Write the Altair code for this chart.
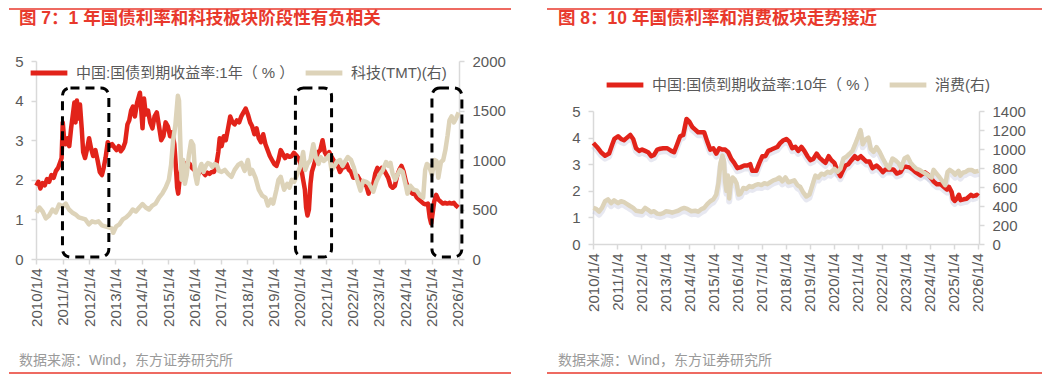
import altair as alt
import pandas as pd

FONT = "Liberation Sans, Noto Sans CJK SC, sans-serif"
RED = "#e2231a"
TAN = "#ddd3b9"
SHADOW = "#b9bed6"
RULE_RED = "#e8392c"
AXIS_GRAY = "#d9d9d9"
TEXT_GRAY = "#595959"
SRC_GRAY = "#9a9a9a"

TITLE_L = "图 7：1 年国债利率和科技板块阶段性有负相关"
TITLE_R = "图 8：10 年国债利率和消费板块走势接近"
SOURCE = "数据来源：Wind，东方证券研究所"
SER_L = ["中国:国债到期收益率:1年（ % ）", "科技(TMT)(右)"]
SER_R = ["中国:国债到期收益率:10年（ % ）", "消费(右)"]
TICK_YEARS = list(range(2010, 2027))

# ---------- left panel: 1Y yield ----------
L_RED_DATES = [
    "2010-01-04", "2010-02-01", "2010-03-01", "2010-04-01", "2010-05-01", "2010-06-01", "2010-07-01", "2010-08-01",
    "2010-09-01", "2010-10-01", "2010-11-01", "2010-12-01", "2010-12-20", "2011-01-05", "2011-01-25", "2011-02-15",
    "2011-03-10", "2011-04-05", "2011-05-01", "2011-05-25", "2011-06-15", "2011-07-01", "2011-07-20", "2011-08-10",
    "2011-09-01", "2011-09-25", "2011-10-15", "2011-11-10", "2011-12-05", "2012-01-05", "2012-02-01", "2012-03-01",
    "2012-04-01", "2012-05-01", "2012-06-01", "2012-07-01", "2012-07-25", "2012-08-20", "2012-09-20", "2012-10-20",
    "2012-11-20", "2012-12-20", "2013-01-20", "2013-02-20", "2013-03-20", "2013-04-20", "2013-05-20", "2013-06-20",
    "2013-07-15", "2013-08-10", "2013-09-05", "2013-10-01", "2013-11-01", "2013-12-10", "2013-12-25", "2014-01-15",
    "2014-02-05", "2014-03-01", "2014-04-01", "2014-05-01", "2014-06-01", "2014-07-01", "2014-08-01", "2014-09-01",
    "2014-10-01", "2014-11-01", "2014-12-01", "2015-01-01", "2015-02-01", "2015-03-01", "2015-04-01", "2015-04-20",
    "2015-05-10", "2015-05-25", "2015-06-15", "2015-07-10", "2015-08-01", "2015-09-01", "2015-10-01", "2015-11-01",
    "2015-12-01", "2016-01-01", "2016-02-01", "2016-03-01", "2016-04-01", "2016-05-01", "2016-06-01", "2016-07-01",
    "2016-08-01", "2016-09-01", "2016-10-01", "2016-11-01", "2016-12-01", "2016-12-20", "2017-01-15", "2017-02-15",
    "2017-03-15", "2017-04-15", "2017-05-15", "2017-06-15", "2017-07-15", "2017-08-15", "2017-09-15", "2017-10-15",
    "2017-11-15", "2017-12-15", "2018-01-15", "2018-02-15", "2018-03-15", "2018-04-15", "2018-05-15", "2018-06-15",
    "2018-07-15", "2018-08-15", "2018-09-15", "2018-10-15", "2018-11-15", "2018-12-15", "2019-01-15", "2019-02-15",
    "2019-03-15", "2019-04-15", "2019-05-15", "2019-06-15", "2019-07-15", "2019-08-15", "2019-09-15", "2019-10-15",
    "2019-11-15", "2019-12-15", "2020-01-15", "2020-02-15", "2020-03-15", "2020-04-01", "2020-04-20", "2020-05-10",
    "2020-06-01", "2020-06-20", "2020-07-15", "2020-08-15", "2020-09-15", "2020-10-15", "2020-11-15", "2020-12-15",
    "2021-01-15", "2021-02-15", "2021-03-15", "2021-04-15", "2021-05-15", "2021-06-15", "2021-07-15", "2021-08-15",
    "2021-09-15", "2021-10-15", "2021-11-15", "2021-12-15", "2022-01-15", "2022-02-15", "2022-03-15", "2022-04-15",
    "2022-05-15", "2022-06-15", "2022-07-15", "2022-08-15", "2022-09-15", "2022-10-15", "2022-11-15", "2022-12-15",
    "2023-01-15", "2023-02-15", "2023-03-15", "2023-04-15", "2023-05-15", "2023-06-15", "2023-07-15", "2023-08-15",
    "2023-09-15", "2023-10-15", "2023-11-15", "2023-12-15", "2024-01-15", "2024-02-15", "2024-03-15", "2024-04-15",
    "2024-05-15", "2024-06-15", "2024-07-15", "2024-08-15", "2024-09-15", "2024-10-15", "2024-11-15", "2024-12-10",
    "2024-12-30", "2025-01-15", "2025-02-10", "2025-03-10", "2025-04-10", "2025-05-10", "2025-06-10", "2025-07-10",
    "2025-08-10", "2025-09-10", "2025-10-10", "2025-11-10", "2025-12-10", "2026-01-10",
]
L_RED = [
    1.85, 1.95, 1.78, 1.92, 1.86, 2.02, 1.95, 2.12,
    2.05, 2.22, 2.30, 2.45, 2.55, 3.45, 3.00, 2.90,
    3.05, 2.85, 3.30, 3.65, 3.95, 3.45, 4.00, 3.55,
    3.90, 3.30, 2.70, 2.55, 2.75, 3.05, 2.80, 2.60,
    2.75, 2.50, 2.20, 2.12, 2.30, 2.55, 2.95, 2.85,
    2.90, 2.82, 2.75, 2.85, 2.72, 2.80, 2.95, 3.40,
    3.50, 3.75, 3.85, 3.60, 3.95, 4.20, 3.85, 3.30,
    4.05, 3.65, 3.75, 3.45, 3.30, 3.60, 3.70, 3.35,
    3.00, 3.10, 3.45, 3.35, 3.10, 3.20, 2.90, 2.40,
    1.80, 1.65, 2.05, 2.30, 2.45, 2.40, 2.35, 2.40,
    2.30, 2.25, 2.22, 2.15, 2.25, 2.20, 2.12, 2.18,
    2.15, 2.20, 2.20, 2.35, 2.70, 3.05, 2.85, 3.10,
    3.00, 3.30, 3.60, 3.45, 3.40, 3.50, 3.45, 3.60,
    3.70, 3.80, 3.65, 3.45, 3.35, 3.15, 3.30, 3.05,
    2.95, 3.15, 2.90, 2.75, 2.60, 2.50, 2.40, 2.35,
    2.50, 2.75, 2.65, 2.55, 2.62, 2.58, 2.60, 2.68,
    2.62, 2.55, 2.40, 2.05, 1.75, 1.30, 1.10, 1.25,
    1.90, 2.20, 2.35, 2.55, 2.70, 2.75, 3.00, 2.70,
    2.60, 2.70, 2.60, 2.50, 2.40, 2.35, 2.20, 2.30,
    2.32, 2.40, 2.25, 2.20, 2.05, 2.05, 2.10, 2.00,
    1.95, 1.90, 1.85, 1.65, 1.80, 1.85, 2.15, 2.30,
    2.20, 2.30, 2.25, 2.15, 2.05, 1.85, 1.80, 1.85,
    2.10, 2.25, 2.35, 2.20, 1.95, 1.80, 1.70, 1.65,
    1.65, 1.55, 1.50, 1.45, 1.40, 1.38, 1.40, 1.05,
    0.90, 1.10, 1.45, 1.62, 1.50, 1.45, 1.40, 1.42,
    1.40, 1.42, 1.40, 1.42, 1.35, 1.30,
]

L_TAN_DATES = [
    "2010-01-04", "2010-02-15", "2010-04-01", "2010-05-15", "2010-07-01", "2010-08-15", "2010-10-01", "2010-11-15",
    "2011-01-01", "2011-02-15", "2011-04-01", "2011-05-15", "2011-07-01", "2011-08-15", "2011-10-01", "2011-11-15",
    "2012-01-01", "2012-02-15", "2012-04-01", "2012-05-15", "2012-07-01", "2012-08-15", "2012-10-01", "2012-11-15",
    "2012-12-05", "2013-01-15", "2013-03-01", "2013-04-15", "2013-06-01", "2013-07-15", "2013-09-01", "2013-10-15",
    "2013-12-01", "2014-01-15", "2014-03-01", "2014-04-15", "2014-06-01", "2014-07-15", "2014-09-01", "2014-10-15",
    "2014-12-01", "2015-01-15", "2015-02-15", "2015-03-15", "2015-04-15", "2015-05-20", "2015-06-05", "2015-06-20",
    "2015-07-10", "2015-08-01", "2015-08-25", "2015-09-20", "2015-10-20", "2015-11-20", "2015-12-20", "2016-01-15",
    "2016-02-10", "2016-03-10", "2016-04-10", "2016-05-10", "2016-06-10", "2016-07-10", "2016-08-10", "2016-09-10",
    "2016-10-10", "2016-11-10", "2016-12-10", "2017-01-15", "2017-03-01", "2017-04-15", "2017-06-01", "2017-07-15",
    "2017-09-01", "2017-10-15", "2017-12-01", "2018-01-15", "2018-02-15", "2018-03-15", "2018-05-01", "2018-06-15",
    "2018-08-01", "2018-09-15", "2018-10-20", "2018-12-01", "2019-01-01", "2019-02-15", "2019-03-15", "2019-04-15",
    "2019-06-01", "2019-07-15", "2019-08-15", "2019-09-15", "2019-10-20", "2019-12-01", "2020-01-15", "2020-02-20",
    "2020-03-20", "2020-04-20", "2020-06-01", "2020-07-10", "2020-08-15", "2020-09-20", "2020-10-20", "2020-12-01",
    "2021-01-15", "2021-02-15", "2021-03-20", "2021-04-20", "2021-06-01", "2021-07-15", "2021-08-20", "2021-09-20",
    "2021-11-01", "2021-12-15", "2022-01-20", "2022-03-10", "2022-04-25", "2022-06-01", "2022-07-15", "2022-08-20",
    "2022-10-20", "2022-12-01", "2023-01-15", "2023-03-01", "2023-04-15", "2023-05-20", "2023-06-15", "2023-07-15",
    "2023-08-20", "2023-09-20", "2023-10-25", "2023-12-01", "2024-01-20", "2024-02-05", "2024-03-15", "2024-05-01",
    "2024-06-15", "2024-08-01", "2024-09-10", "2024-10-08", "2024-11-01", "2024-12-01", "2025-01-10", "2025-02-15",
    "2025-03-15", "2025-04-08", "2025-05-15", "2025-06-15", "2025-07-15", "2025-08-15", "2025-09-10", "2025-10-10",
    "2025-11-10", "2025-12-10", "2026-01-15",
]
L_TAN = [
    470, 520, 480, 410, 440, 500, 470, 550,
    530, 560, 500, 470, 450, 420, 410, 400,
    350, 380, 370, 380, 340, 330, 320, 310,
    265, 330, 350, 400, 420, 450, 500, 480,
    520, 555, 520, 500, 540, 560, 620, 660,
    720, 800, 950, 1200, 1350, 1650, 1600, 1250,
    800, 1000, 760, 850, 1050, 1190, 1150, 850,
    760, 900, 960, 880, 940, 970, 960, 930,
    960, 950, 890, 880, 900, 860, 830, 900,
    950, 970, 890, 1000, 860, 900, 820, 700,
    640, 620, 540, 600, 560, 700, 800, 830,
    700, 760, 720, 800, 780, 860, 940, 1080,
    900, 960, 1000, 1160, 1020, 960, 1030, 990,
    1020, 1050, 900, 930, 980, 1000, 940, 980,
    1030, 1000, 930, 800, 690, 790, 780, 760,
    680, 780, 850, 900, 980, 940, 970, 860,
    800, 850, 900, 880, 720, 660, 740, 700,
    690, 640, 620, 900, 960, 940, 850, 1000,
    990, 820, 980, 1000, 1100, 1250, 1400, 1440,
    1380, 1420, 1480,
]

# dashed highlight boxes (left panel)
BOX_START = ["2011-01-01", "2019-11-05", "2025-01-10"]
BOX_END = ["2012-10-05", "2021-03-20", "2026-03-01"]
BOX_LOW = [0.05, 0.05, 0.05]
BOX_HIGH = [4.32, 4.32, 4.32]

# ---------- right panel: 10Y yield ----------
R_RED_DATES = [
    "2010-01-04", "2010-03-01", "2010-05-01", "2010-07-01", "2010-09-01", "2010-10-20", "2010-11-20", "2011-01-15",
    "2011-03-01", "2011-04-15", "2011-06-01", "2011-07-20", "2011-09-01", "2011-10-15", "2011-12-01", "2012-01-15",
    "2012-03-01", "2012-04-15", "2012-06-01", "2012-07-15", "2012-09-01", "2012-10-15", "2012-12-01", "2013-02-01",
    "2013-04-01", "2013-05-15", "2013-07-01", "2013-08-15", "2013-10-01", "2013-11-20", "2014-01-01", "2014-02-15",
    "2014-04-01", "2014-05-15", "2014-07-01", "2014-08-15", "2014-10-01", "2014-11-15", "2015-01-01", "2015-02-15",
    "2015-04-01", "2015-05-15", "2015-07-01", "2015-08-15", "2015-10-01", "2015-11-15", "2016-01-01", "2016-02-15",
    "2016-04-15", "2016-06-01", "2016-07-15", "2016-08-15", "2016-10-15", "2016-12-01", "2017-01-15", "2017-03-01",
    "2017-04-15", "2017-06-01", "2017-07-15", "2017-09-01", "2017-10-15", "2017-12-01", "2018-01-15", "2018-03-01",
    "2018-04-15", "2018-06-01", "2018-07-15", "2018-09-01", "2018-10-15", "2018-12-01", "2019-01-15", "2019-03-01",
    "2019-04-20", "2019-06-01", "2019-07-15", "2019-09-01", "2019-10-20", "2019-12-01", "2020-01-15", "2020-03-01",
    "2020-04-15", "2020-05-20", "2020-07-01", "2020-08-15", "2020-10-01", "2020-11-20", "2021-01-01", "2021-02-20",
    "2021-04-01", "2021-05-15", "2021-07-01", "2021-08-15", "2021-10-15", "2021-12-01", "2022-01-20", "2022-03-01",
    "2022-05-01", "2022-07-01", "2022-08-20", "2022-10-15", "2022-12-01", "2023-01-15", "2023-03-01", "2023-04-20",
    "2023-06-01", "2023-08-15", "2023-10-15", "2023-12-01", "2024-01-15", "2024-03-01", "2024-04-20", "2024-06-15",
    "2024-08-01", "2024-09-20", "2024-10-20", "2024-12-01", "2024-12-20", "2025-01-15", "2025-02-15", "2025-03-20",
    "2025-04-15", "2025-06-01", "2025-07-15", "2025-08-20", "2025-09-20", "2025-10-20", "2025-11-20", "2025-12-20",
    "2026-01-10",
]
R_RED = [
    3.80, 3.65, 3.45, 3.32, 3.40, 3.75, 3.95, 4.05,
    3.95, 3.90, 4.00, 4.10, 3.95, 3.60, 3.50, 3.55,
    3.50, 3.45, 3.30, 3.35, 3.55, 3.58, 3.60, 3.60,
    3.50, 3.45, 3.75, 4.05, 4.10, 4.70, 4.60, 4.40,
    4.30, 4.20, 4.20, 4.20, 3.85, 3.55, 3.60, 3.40,
    3.60, 3.55, 3.55, 3.45, 3.20, 3.05, 2.85, 2.88,
    2.95, 2.95, 3.00, 2.75, 2.75, 3.05, 3.30, 3.30,
    3.50, 3.55, 3.60, 3.65, 3.80, 3.90, 3.95, 3.85,
    3.60, 3.65, 3.50, 3.65, 3.50, 3.30, 3.15, 3.20,
    3.40, 3.25, 3.15, 3.05, 3.30, 3.15, 3.05, 2.75,
    2.55, 2.75, 2.95, 3.00, 3.15, 3.30, 3.20, 3.30,
    3.20, 3.10, 3.10, 2.85, 2.95, 2.85, 2.70, 2.80,
    2.80, 2.80, 2.65, 2.70, 2.90, 2.90, 2.88, 2.80,
    2.70, 2.58, 2.70, 2.62, 2.50, 2.35, 2.25, 2.25,
    2.15, 2.05, 2.15, 1.95, 1.70, 1.62, 1.70, 1.85,
    1.65, 1.68, 1.70, 1.78, 1.85, 1.80, 1.82, 1.85,
    1.80,
]

R_TAN_DATES = [
    "2010-01-04", "2010-02-15", "2010-04-01", "2010-05-15", "2010-07-01", "2010-08-15", "2010-10-01", "2010-11-15",
    "2011-01-15", "2011-03-01", "2011-04-15", "2011-06-01", "2011-07-15", "2011-09-01", "2011-10-15", "2011-12-01",
    "2012-01-15", "2012-03-01", "2012-04-15", "2012-06-01", "2012-07-15", "2012-09-01", "2012-10-15", "2012-12-01",
    "2013-01-15", "2013-03-01", "2013-04-15", "2013-06-01", "2013-07-15", "2013-09-01", "2013-10-15", "2013-12-01",
    "2014-02-01", "2014-04-01", "2014-05-15", "2014-07-01", "2014-08-15", "2014-10-01", "2014-11-15", "2015-01-01",
    "2015-02-15", "2015-03-20", "2015-04-20", "2015-05-20", "2015-06-10", "2015-07-01", "2015-07-20", "2015-08-10",
    "2015-08-30", "2015-09-20", "2015-10-20", "2015-11-20", "2015-12-20", "2016-01-20", "2016-02-20", "2016-04-01",
    "2016-05-15", "2016-07-01", "2016-08-15", "2016-10-01", "2016-11-15", "2017-01-01", "2017-02-15", "2017-04-01",
    "2017-05-15", "2017-07-01", "2017-08-15", "2017-10-01", "2017-11-15", "2018-01-01", "2018-02-15", "2018-04-01",
    "2018-05-15", "2018-07-01", "2018-08-15", "2018-10-01", "2018-11-15", "2019-01-01", "2019-02-15", "2019-04-01",
    "2019-05-15", "2019-07-01", "2019-08-15", "2019-10-01", "2019-11-15", "2020-01-15", "2020-03-01", "2020-04-15",
    "2020-06-01", "2020-07-15", "2020-09-01", "2020-10-15", "2020-11-20", "2021-01-15", "2021-02-15", "2021-03-20",
    "2021-05-01", "2021-06-15", "2021-07-20", "2021-09-01", "2021-10-15", "2021-12-01", "2022-01-20", "2022-03-15",
    "2022-04-25", "2022-06-15", "2022-08-01", "2022-09-15", "2022-10-25", "2022-12-15", "2023-01-30", "2023-03-15",
    "2023-05-01", "2023-06-15", "2023-08-01", "2023-09-15", "2023-11-01", "2023-12-15", "2024-02-01", "2024-03-01",
    "2024-04-15", "2024-06-01", "2024-07-15", "2024-08-25", "2024-09-30", "2024-11-01", "2024-12-15", "2025-01-20",
    "2025-03-15", "2025-04-10", "2025-05-20", "2025-07-01", "2025-08-15", "2025-10-01", "2025-11-15", "2026-01-15",
]
R_TAN = [
    380, 370, 340, 380, 450, 470, 430, 460,
    430, 450, 440, 420, 400, 380, 350, 345,
    340, 380, 360, 335, 345, 320, 315, 325,
    345, 340, 330, 340, 350, 370, 380, 370,
    345, 350, 340, 365, 380, 420, 450, 470,
    520, 640, 850, 930, 880, 650, 560, 720,
    480, 620, 700, 680, 640, 520, 530, 590,
    580, 610, 600, 620, 630, 620, 640, 630,
    650, 670, 680, 700, 660, 700, 650, 660,
    670, 620, 600, 540, 500, 520, 620, 720,
    700, 740, 730, 760, 750, 790, 760, 790,
    900, 920, 950, 980, 1040, 1140, 1200, 1050,
    1100, 1120, 1000, 970, 1020, 970, 900, 830,
    800, 900, 880, 850, 800, 900, 920, 860,
    820, 790, 780, 760, 740, 720, 700, 780,
    740, 700, 660, 620, 760, 780, 760, 730,
    770, 720, 750, 760, 780, 780, 760, 770,
]


def dt(y, m, d):
    return alt.DateTime(year=y, month=m, date=d)


X_DOMAIN = [dt(2009, 12, 30), dt(2026, 1, 20)]
ONE = pd.DataFrame({"k": [0]})

X_AXIS = alt.Axis(
    values=[dt(y, 1, 4) for y in TICK_YEARS],
    format="%Y/%-m/%-d",
    labelAngle=-90,
    labelOverlap=False,
    labelFlush=False,
    tickSize=5,
    labelPadding=4,
    title=None,
    grid=False,
)


def x_enc(field="date"):
    return alt.X(f"{field}:T", scale=alt.Scale(domain=X_DOMAIN), axis=X_AXIS)


def legend(x, y, pad):
    return alt.Legend(
        title=None,
        orient="none",
        legendX=x,
        legendY=y,
        direction="horizontal",
        symbolType="stroke",
        symbolStrokeWidth=5,
        symbolSize=1350,
        labelFontSize=15,
        labelFont=FONT,
        labelColor=TEXT_GRAY,
        labelOffset=6,
        labelLimit=0,
        columnPadding=pad,
        padding=0,
    )


def panel(red_d, red_v, tan_d, tan_v, names, w, h, yr, right_max, right_step,
          leg, title, deco, boxes=False, shadow=False):
    # yr = (bottom, top) pixel range of the value scales inside the view
    red_df = pd.DataFrame({"date": red_d, "v": red_v, "s": names[0]})
    tan_df = pd.DataFrame({"date": tan_d, "v": tan_v, "s": names[1]})
    color = alt.Color("s:N", scale=alt.Scale(domain=names, range=[RED, TAN]), legend=leg)
    layers = []
    if shadow:
        for df, mx in ((red_df, 5), (tan_df, right_max)):
            layers.append(
                alt.Chart(df).mark_line(strokeWidth=6, strokeJoin="round", color=SHADOW, opacity=0.35).encode(
                    x=x_enc(),
                    y=alt.Y("v:Q", scale=alt.Scale(domain=[0, mx], range=[yr[0] + 3, yr[1] + 3], nice=False),
                            axis=None),
                )
            )
    red = alt.Chart(red_df).mark_line(strokeWidth=4.5, strokeJoin="round").encode(
        x=x_enc(),
        y=alt.Y("v:Q", scale=alt.Scale(domain=[0, 5], range=list(yr), nice=False),
                axis=alt.Axis(values=[0, 1, 2, 3, 4, 5], orient="left", title=None,
                              tickSize=5, labelPadding=8, grid=False, format="d")),
        color=color,
    )
    tan = alt.Chart(tan_df).mark_line(strokeWidth=4.5, strokeJoin="round").encode(
        x=x_enc(),
        y=alt.Y("v:Q", scale=alt.Scale(domain=[0, right_max], range=list(yr), nice=False),
                axis=alt.Axis(values=list(range(0, right_max + 1, right_step)), orient="right",
                              title=None, tickSize=5, labelPadding=8, grid=False, format="d")),
        color=color,
    )
    layers += [red, tan]
    if boxes:
        bdf = pd.DataFrame({"start": BOX_START, "end": BOX_END, "lo": BOX_LOW, "hi": BOX_HIGH})
        layers.append(
            alt.Chart(bdf).mark_rect(fillOpacity=0, stroke="black", strokeWidth=3,
                                     strokeDash=[9, 6], cornerRadius=8).encode(
                x=x_enc("start"), x2="end:T",
                y=alt.Y("lo:Q", scale=alt.Scale(domain=[0, 5], range=list(yr), nice=False), axis=None),
                y2="hi:Q",
            )
        )
    rx0, rx1, rtop, rbot, tx, ty, sy = deco
    layers += [
        alt.Chart(ONE).mark_rule(color=RULE_RED, strokeWidth=1.5).encode(
            x=alt.value(rx0), x2=alt.value(rx1), y=alt.value(rtop)),
        alt.Chart(ONE).mark_rule(color=RULE_RED, strokeWidth=1.5).encode(
            x=alt.value(rx0), x2=alt.value(rx1), y=alt.value(rbot)),
        alt.Chart(ONE).mark_text(align="left", baseline="middle", font=FONT, fontSize=17.5,
                                 fontWeight="bold", color=RULE_RED).encode(
            x=alt.value(tx), y=alt.value(ty), text=alt.value(title)),
        alt.Chart(ONE).mark_text(align="left", baseline="middle", font=FONT, fontSize=14,
                                 color=SRC_GRAY).encode(
            x=alt.value(tx), y=alt.value(sy), text=alt.value(SOURCE)),
    ]
    return alt.layer(*layers).resolve_scale(y="independent").properties(width=w, height=h)


# both views start at page y=60; right panel's value scales occupy y 110..243
left = panel(L_RED_DATES, L_RED, L_TAN_DATES, L_TAN, SER_L, 423, 198, (198, 0), 2000, 500,
             legend(-8, -9, 0), TITLE_L, (-27, 475, -52, 312, -17, -42, 300), boxes=True)
right = panel(R_RED_DATES, R_RED, R_TAN_DATES, R_TAN, SER_R, 386, 183, (183, 50), 1400, 200,
              legend(11, 3, 0), TITLE_R, (-46, 449, -52, 312, -35, -42, 300), shadow=True)

chart = (
    alt.hconcat(left, right, spacing=34)
    .resolve_scale(color="independent")
    .properties(padding=0)
    .configure_view(stroke=None)
    .configure_axis(domainColor=AXIS_GRAY, domainWidth=1.5, tickColor=AXIS_GRAY, tickWidth=1.5,
                    labelColor=TEXT_GRAY, labelFont=FONT, labelFontSize=15)
)

chart.save("out.html", embed_options={"renderer": "svg", "actions": False})
